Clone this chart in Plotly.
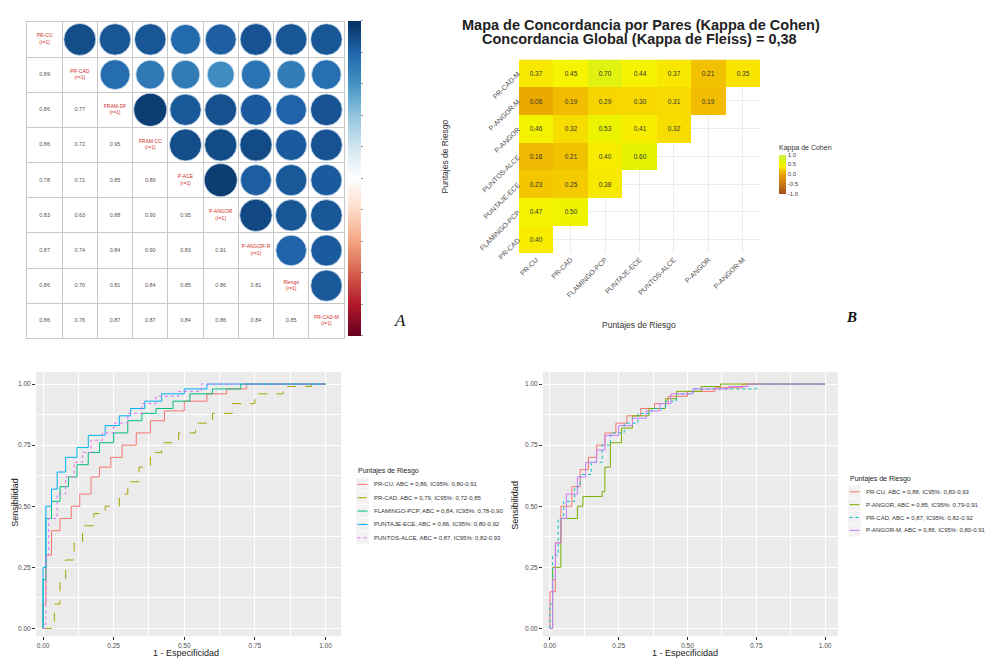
import plotly.graph_objects as go
import numpy as np

W, H = 1004, 658

# ---------------- Panel A: correlation matrix ----------------
corr_vars = ["PR-CU", "PR-CAD", "FRAM-DF", "FRAM-CC", "P-ACE",
             "P-ANGOR", "P-ANGOR-R", "Riesgo", "PR-CAD-M"]
corr_lower = [
    [],
    [0.89],
    [0.86, 0.77],
    [0.86, 0.72, 0.95],
    [0.78, 0.71, 0.85, 0.89],
    [0.83, 0.63, 0.88, 0.90, 0.95],
    [0.87, 0.74, 0.84, 0.90, 0.83, 0.91],
    [0.86, 0.70, 0.81, 0.84, 0.85, 0.86, 0.81],
    [0.86, 0.76, 0.87, 0.87, 0.84, 0.86, 0.84, 0.85],
]

# ---------------- Panel B: pairwise kappa ----------------
kappa_x = ["PR-CU", "PR-CAD", "FLAMINGO-PCP", "PUNTAJE-ECE", "PUNTOS-ALCE", "P-ANGOR", "P-ANGOR-M"]
kappa_y = ["PR-CAD-M", "P-ANGOR-M", "P-ANGOR", "PUNTOS-ALCE", "PUNTAJE-ECE", "FLAMINGO-PCP", "PR-CAD"]
kappa_rows = [
    [0.37, 0.45, 0.70, 0.44, 0.37, 0.21, 0.35],
    [0.06, 0.19, 0.29, 0.30, 0.31, 0.19],
    [0.46, 0.32, 0.53, 0.41, 0.32],
    [0.16, 0.21, 0.40, 0.60],
    [0.23, 0.25, 0.38],
    [0.47, 0.50],
    [0.40],
]
fleiss_kappa = "0,38"

# ---------------- Panel C: ROC curves (5 scores) ----------------
rocC_names = ["PR-CU, ABC = 0,86, IC95%: 0,80-0,91",
              "PR-CAD, ABC = 0,79, IC95%: 0,72-0,85",
              "FLAMINGO-PCP, ABC = 0,84, IC95%: 0,78-0,90",
              "PUNTAJE-ECE, ABC = 0,86, IC95%: 0,80-0,92",
              "PUNTOS-ALCE, ABC = 0,87, IC95%: 0,82-0,93"]
rocC_fpr = [
    [0, 0, 0.01, 0.03, 0.06, 0.10, 0.13, 0.17, 0.20, 0.24, 0.28, 0.33, 0.38, 0.43, 0.50, 0.58, 0.65, 0.72, 1.0],
    [0, 0.03, 0.04, 0.06, 0.08, 0.11, 0.14, 0.18, 0.22, 0.27, 0.30, 0.34, 0.38, 0.42, 0.48, 0.54, 0.60, 0.67, 0.75, 0.85, 0.95, 1.0],
    [0, 0, 0.01, 0.03, 0.06, 0.09, 0.12, 0.16, 0.20, 0.25, 0.30, 0.35, 0.40, 0.46, 0.52, 0.60, 0.70, 1.0],
    [0, 0, 0.01, 0.03, 0.05, 0.08, 0.12, 0.16, 0.22, 0.27, 0.31, 0.36, 0.42, 0.50, 0.58, 1.0],
    [0, 0.01, 0.02, 0.05, 0.08, 0.11, 0.14, 0.17, 0.21, 0.25, 0.30, 0.35, 0.40, 0.48, 0.56, 1.0],
]
rocC_tpr = [
    [0, 0.10, 0.30, 0.40, 0.45, 0.50, 0.55, 0.62, 0.66, 0.70, 0.75, 0.80, 0.85, 0.89, 0.93, 0.96, 0.98, 1.0, 1.0],
    [0, 0, 0.10, 0.20, 0.28, 0.35, 0.42, 0.47, 0.50, 0.55, 0.60, 0.66, 0.72, 0.76, 0.80, 0.84, 0.88, 0.92, 0.96, 0.99, 1.0, 1.0],
    [0, 0.20, 0.45, 0.52, 0.58, 0.62, 0.67, 0.72, 0.76, 0.80, 0.85, 0.88, 0.90, 0.93, 0.96, 0.98, 1.0, 1.0],
    [0, 0.25, 0.50, 0.57, 0.64, 0.70, 0.74, 0.79, 0.83, 0.87, 0.90, 0.93, 0.96, 0.98, 1.0, 1.0],
    [0, 0.30, 0.45, 0.55, 0.62, 0.68, 0.72, 0.77, 0.80, 0.84, 0.88, 0.92, 0.95, 0.97, 1.0, 1.0],
]

# ---------------- Panel D: ROC curves (4 scores) ----------------
rocD_names = ["PR-CU, ABC = 0,88, IC95%: 0,83-0,93",
              "P-ANGOR, ABC = 0,85, IC95%: 0,79-0,91",
              "PR-CAD, ABC = 0,87, IC95%: 0,82-0,92",
              "P-ANGOR-M, ABC = 0,86, IC95%: 0,80-0,91"]
rocD_fpr = [
    [0, 0, 0.02, 0.04, 0.08, 0.11, 0.14, 0.17, 0.20, 0.24, 0.28, 0.33, 0.38, 0.43, 0.50, 0.60, 0.70, 1.0],
    [0, 0.01, 0.04, 0.10, 0.12, 0.19, 0.20, 0.22, 0.26, 0.30, 0.36, 0.42, 0.46, 0.55, 0.62, 1.0],
    [0, 0, 0.01, 0.03, 0.05, 0.09, 0.11, 0.15, 0.19, 0.22, 0.27, 0.32, 0.37, 0.42, 0.46, 0.52, 0.75, 1.0],
    [0, 0.01, 0.02, 0.04, 0.06, 0.10, 0.13, 0.17, 0.20, 0.25, 0.30, 0.35, 0.40, 0.44, 0.52, 0.65, 0.72, 1.0],
]
rocD_tpr = [
    [0, 0.15, 0.35, 0.50, 0.58, 0.65, 0.70, 0.75, 0.80, 0.84, 0.87, 0.90, 0.92, 0.95, 0.97, 0.985, 1.0, 1.0],
    [0, 0.25, 0.45, 0.50, 0.54, 0.56, 0.66, 0.76, 0.82, 0.87, 0.90, 0.94, 0.97, 0.99, 1.0, 1.0],
    [0, 0.10, 0.30, 0.45, 0.52, 0.58, 0.63, 0.68, 0.75, 0.80, 0.84, 0.88, 0.90, 0.93, 0.96, 0.98, 1.0, 1.0],
    [0, 0.20, 0.35, 0.45, 0.55, 0.62, 0.68, 0.73, 0.79, 0.83, 0.86, 0.89, 0.92, 0.96, 0.98, 0.99, 1.0, 1.0],
]

# ---------------- styles ----------------
colorsC = ["#F8766D", "#A3A500", "#00BF7D", "#00B0F6", "#E76BF3"]
colorsD = ["#F8766D", "#7CAE00", "#00BFC4", "#C77CFF"]
dashC = ["solid", "dash", "solid", "solid", "dot"]
dashD = ["solid", "solid", "dot", "solid"]
rdbu = [[0.0, "#67001F"], [0.1, "#B2182B"], [0.2, "#D6604D"], [0.3, "#F4A582"],
        [0.4, "#FDDBC7"], [0.5, "#FFFFFF"], [0.6, "#D1E5F0"], [0.7, "#92C5DE"],
        [0.8, "#4393C3"], [0.9, "#2166AC"], [1.0, "#053061"]]
kappa_scale = [[0.0, "#A0501E"], [0.25, "#C87814"], [0.5, "#E8A000"], [0.6, "#F2BE00"],
               [0.675, "#F8E400"], [0.725, "#F6F400"], [0.8, "#E4F200"], [1.0, "#CFF048"]]

def fx(x):
    return x / W

def fy(y):
    return 1 - y / H

fig = go.Figure()

# ---- Panel A traces ----
n = len(corr_vars)
M = np.eye(n)
for i, row in enumerate(corr_lower):
    for j, v in enumerate(row):
        M[i, j] = v
        M[j, i] = v

cx, cy, cc, cs = [], [], [], []
tx, ty, tt = [], [], []
for i in range(n):
    for j in range(n):
        if j > i:
            cx.append(j + 1); cy.append(i + 1); cc.append(M[i, j])
            cs.append(34 * np.sqrt(abs(M[i, j])))
        elif j < i:
            tx.append(j + 1); ty.append(i + 1); tt.append(f"{M[i, j]:.2f}")

fig.add_trace(go.Scatter(
    x=cx, y=cy, mode="markers", xaxis="x", yaxis="y", showlegend=False, opacity=1,
    marker=dict(size=cs, color=cc, colorscale=rdbu, cmin=-1, cmax=1, opacity=1,
                line=dict(width=0.8, color="#D6E6F4"),
                colorbar=dict(x=fx(340), xanchor="left", y=fy(172), yanchor="middle",
                              len=315, lenmode="pixels", thickness=13, outlinewidth=0,
                              xpad=0, ypad=0,
                              tickvals=[-1, -0.8, -0.6, -0.4, -0.2, 0, 0.2, 0.4, 0.6, 0.8, 1],
                              ticks="outside", ticklen=2, tickcolor="#999",
                              showticklabels=False))))
fig.add_trace(go.Scatter(
    x=tx, y=ty, mode="text", text=tt, xaxis="x", yaxis="y", showlegend=False,
    textfont=dict(size=5.5, color="#555555")))
fig.add_trace(go.Scatter(
    x=list(range(1, n + 1)), y=list(range(1, n + 1)), mode="text",
    text=[f"{v}<br>(r=1)" for v in corr_vars], xaxis="x", yaxis="y", showlegend=False,
    textfont=dict(size=5, color="#D0302A")))

# ---- Panel B trace ----
zk = [row + [None] * (len(kappa_x) - len(row)) for row in kappa_rows]
tk = [[f"{v:.2f}" for v in row] + [""] * (len(kappa_x) - len(row)) for row in kappa_rows]
fig.add_trace(go.Heatmap(
    x=kappa_x, y=kappa_y, z=zk, text=tk, texttemplate="%{text}",
    textfont=dict(size=6.5, color="#333333"), xaxis="x2", yaxis="y2",
    colorscale=kappa_scale, zmin=-1, zmax=1, hoverongaps=False,
    colorbar=dict(x=fx(771), xanchor="left", y=fy(135), yanchor="top",
                  len=52, lenmode="pixels", thickness=7, outlinewidth=0, xpad=0, ypad=0,
                  title=dict(text="Kappa de Cohen", side="top", font=dict(size=7, color="#333")),
                  tickvals=[-1, -0.5, 0, 0.5, 1], ticktext=["-1.0", "-0.5", "0.0", "0.5", "1.0"],
                  tickfont=dict(size=6, color="#444"), ticks="")))

# ---- Panel C / D traces ----
for k in range(len(rocC_names)):
    fig.add_trace(go.Scatter(x=rocC_fpr[k], y=rocC_tpr[k], mode="lines", name=rocC_names[k],
                             line=dict(color=colorsC[k], width=1, shape="hv", dash=dashC[k]),
                             xaxis="x3", yaxis="y3", showlegend=False))
for k in range(len(rocD_names)):
    fig.add_trace(go.Scatter(x=rocD_fpr[k], y=rocD_tpr[k], mode="lines", name=rocD_names[k],
                             line=dict(color=colorsD[k], width=1, shape="hv", dash=dashD[k]),
                             xaxis="x4", yaxis="y4", showlegend=False))

# ---- axes ----
grid_ticks = [v + 0.5 for v in range(0, n + 1)]
axA = dict(range=[0.5, n + 0.5], tickvals=grid_ticks, showticklabels=False, showgrid=True,
           gridcolor="#C8C8C8", gridwidth=1, zeroline=False, showline=True, mirror=True,
           linecolor="#C8C8C8", ticks="")
roc_ticks = [0, 0.25, 0.5, 0.75, 1.0]
roc_text = ["0.00", "0.25", "0.50", "0.75", "1.00"]
def roc_axis(dom, rng):
    return dict(domain=dom, range=rng, tickvals=roc_ticks, ticktext=roc_text,
                showgrid=True, gridcolor="white", gridwidth=1.1, zeroline=False,
                minor=dict(tickvals=[0.125, 0.375, 0.625, 0.875], showgrid=True,
                           gridcolor="white", gridwidth=0.5),
                ticks="outside", ticklen=3, tickcolor="#333333", tickwidth=0.8,
                tickfont=dict(size=6.5, color="#4D4D4D"), showline=False)

fig.update_layout(
    width=W, height=H, margin=dict(l=0, r=0, t=0, b=0),
    paper_bgcolor="white", plot_bgcolor="white", showlegend=False,
    font=dict(family="Liberation Sans, Arial, sans-serif"),
    xaxis=dict(domain=[fx(19), fx(336)], **axA),
    yaxis=dict(domain=[fy(334), fy(14)], **{**axA, "range": [n + 0.5, 0.5]}),
    xaxis2=dict(domain=[fx(511), fx(752)], tickangle=-45, showgrid=True, gridcolor="#EBEBEB",
                zeroline=False, ticks="", tickfont=dict(size=7, color="#4D4D4D"),
                categoryorder="array", categoryarray=kappa_x, range=[-0.5, 6.5]),
    yaxis2=dict(domain=[fy(248), fy(52)], tickangle=-45, showgrid=True, gridcolor="#EBEBEB",
                zeroline=False, ticks="", tickfont=dict(size=7, color="#4D4D4D"),
                categoryorder="array", categoryarray=kappa_y[::-1], range=[-0.5, 6.5]),
    xaxis3=roc_axis([fx(28), fx(333)], [-0.025, 1.055]),
    yaxis3=roc_axis([fy(635), fy(368)], [-0.032, 1.049]),
    xaxis4=roc_axis([fx(535), fx(830)], [-0.025, 1.047]),
    yaxis4=roc_axis([fy(635), fy(368)], [-0.032, 1.049]),
)
fig.layout.yaxis3.anchor = "x3"
fig.layout.xaxis3.anchor = "y3"
fig.layout.yaxis4.anchor = "x4"
fig.layout.xaxis4.anchor = "y4"
fig.layout.xaxis2.anchor = "y2"
fig.layout.yaxis2.anchor = "x2"

shapes = []
for ax in ["3", "4"]:
    shapes.append(dict(type="rect", xref=f"x{ax} domain", yref=f"y{ax} domain", x0=0, x1=1, y0=0, y1=1,
                       fillcolor="#EBEBEB", line=dict(width=0), layer="below"))

ann = []
def add_text(x, y, text, size, color="#222222", xanchor="center", yanchor="middle", angle=0, family=None):
    d = dict(x=fx(x), y=fy(y), xref="paper", yref="paper", text=text, showarrow=False,
             xanchor=xanchor, yanchor=yanchor, textangle=angle,
             font=dict(size=size, color=color))
    if family:
        d["font"]["family"] = family
    ann.append(d)

# panel B titles
add_text(633, 17, "<b>Mapa de Concordancia por Pares (Kappa de Cohen)</b>", 14.5, "#222222")
add_text(631, 31, f"<b>Concordancia Global (Kappa de Fleiss) = {fleiss_kappa}</b>", 14.5, "#222222")
add_text(437, 150, "Puntajes de Riesgo", 8.5, "#333333", angle=-90)
add_text(631, 320, "Puntajes de Riesgo", 8.5, "#333333")

# panel labels
add_text(392, 316, "<i>A</i>", 17, "#111111", family="Liberation Serif, Times New Roman, serif")
add_text(843, 312, "<i><b>B</b></i>", 15, "#111111", family="Liberation Serif, Times New Roman, serif")

# ROC axis titles
add_text(178, 652, "1 - Especificidad", 9, "#222222")
add_text(677, 652, "1 - Especificidad", 9, "#222222")
add_text(7, 500, "Sensibilidad", 9, "#222222", angle=-90)
add_text(507, 503, "Sensibilidad", 9, "#222222", angle=-90)

# manual legends (ggplot-like)
def legend(x0, ytitle, step, names, colors, dashes):
    add_text(x0, ytitle, "Puntajes de Riesgo", 7, "#222222", xanchor="left")
    for k, (nm, col, ds) in enumerate(zip(names, colors, dashes)):
        yc = ytitle + step * (k + 1)
        shapes.append(dict(type="rect", xref="paper", yref="paper",
                           x0=fx(x0), x1=fx(x0 + 13), y0=fy(yc + 6.5), y1=fy(yc - 6.5),
                           fillcolor="#F2F2F2", line=dict(width=0.6, color="white")))
        shapes.append(dict(type="line", xref="paper", yref="paper",
                           x0=fx(x0 + 1.5), x1=fx(x0 + 11.5), y0=fy(yc), y1=fy(yc),
                           line=dict(color=col, width=1, dash=ds)))
        add_text(x0 + 16, yc, nm, 6, "#333333", xanchor="left")

legend(348, 468, 13.5, rocC_names, colorsC, dashC)
legend(840, 476, 13, rocD_names, colorsD, dashD)

fig.update_layout(shapes=shapes, annotations=ann)
fig.write_html("out.html")
